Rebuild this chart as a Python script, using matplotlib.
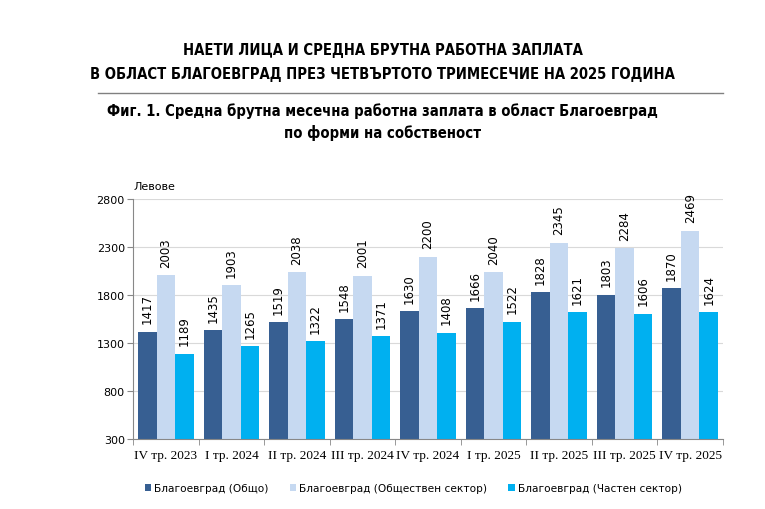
import numpy as np
from matplotlib import pyplot as plt

quarters = ['IV тр. 2023', 'I тр. 2024', 'II тр. 2024', 'III тр. 2024', 'IV тр. 2024',
            'I тр. 2025', 'II тр. 2025', 'III тр. 2025', 'IV тр. 2025']
total = [1417, 1435, 1519, 1548, 1630, 1666, 1828, 1803, 1870]
public = [2003, 1903, 2038, 2001, 2200, 2040, 2345, 2284, 2469]
private = [1189, 1265, 1322, 1371, 1408, 1522, 1621, 1606, 1624]
series_names = ['Благоевград (Общо)', 'Благоевград (Обществен сектор)',
                'Благоевград (Частен сектор)']
colors = ['#375f92', '#c6d9f1', '#00b0f0']

fig = plt.figure(figsize=(7.65, 5.1), dpi=100)
ax = fig.add_axes([0.174, 0.137, 0.771, 0.471])

x = np.arange(len(quarters))
w = 0.283
for k, vals in enumerate([total, public, private]):
    pos = x + (k - 1) * w
    ax.bar(pos, np.array(vals) - 300, bottom=300, width=w, color=colors[k],
           label=series_names[k], zorder=2)
    for p, v in zip(pos, vals):
        ax.annotate(str(v), (p, v), xytext=(0, 6), textcoords='offset points',
                    rotation=90, ha='center', va='bottom', fontsize=8.5, color='black')

ax.set_ylim(300, 2800)
ax.set_yticks([300, 800, 1300, 1800, 2300, 2800])
ax.set_xlim(-0.5, len(quarters) - 0.5)
ax.set_xticks(x)
ax.set_xticklabels(quarters, fontfamily='Liberation Serif', fontsize=9.5)
ax.set_xticks(np.arange(-0.5, len(quarters)), minor=True)
ax.tick_params(axis='x', which='major', length=0, pad=7)
ax.tick_params(axis='x', which='minor', length=4, color='#888888')
ax.tick_params(axis='y', labelsize=8, length=4, color='#888888', pad=2)
ax.grid(axis='y', color='#d9d9d9', linewidth=0.8, zorder=0)
for s in ['top', 'right']:
    ax.spines[s].set_visible(False)
ax.spines['left'].set_color('#888888')
ax.spines['bottom'].set_color('#888888')
ax.text(-0.5, 2880, 'Левове', fontsize=8, ha='left', va='bottom')

ax.legend(loc='upper center', bbox_to_anchor=(0.475, -0.145), ncol=3, frameon=False,
          fontsize=7.6, handlelength=0.6, handleheight=0.6, handletextpad=0.3,
          columnspacing=2.0)

# titles: condensed bold
tkw = dict(ha='center', va='center', fontweight='bold', family='DejaVu Sans',
           stretch='condensed', fontsize=10.6)
fig.text(0.5, 1 - 50 / 510, 'НАЕТИ ЛИЦА И СРЕДНА БРУТНА РАБОТНА ЗАПЛАТА', **tkw)
fig.text(0.5, 1 - 75 / 510, 'В ОБЛАСТ БЛАГОЕВГРАД ПРЕЗ ЧЕТВЪРТОТО ТРИМЕСЕЧИЕ НА 2025 ГОДИНА',
         **tkw)
fig.add_artist(plt.Line2D([98 / 765, 723 / 765], [1 - 94 / 510] * 2,
                          color='#808080', linewidth=1, transform=fig.transFigure))
fig.text(0.5, 1 - 111 / 510, 'Фиг. 1. Средна брутна месечна работна заплата в област Благоевград',
         **tkw)
fig.text(0.5, 1 - 133 / 510, 'по форми на собственост', **tkw)

fig.savefig('out.png', dpi=100)
